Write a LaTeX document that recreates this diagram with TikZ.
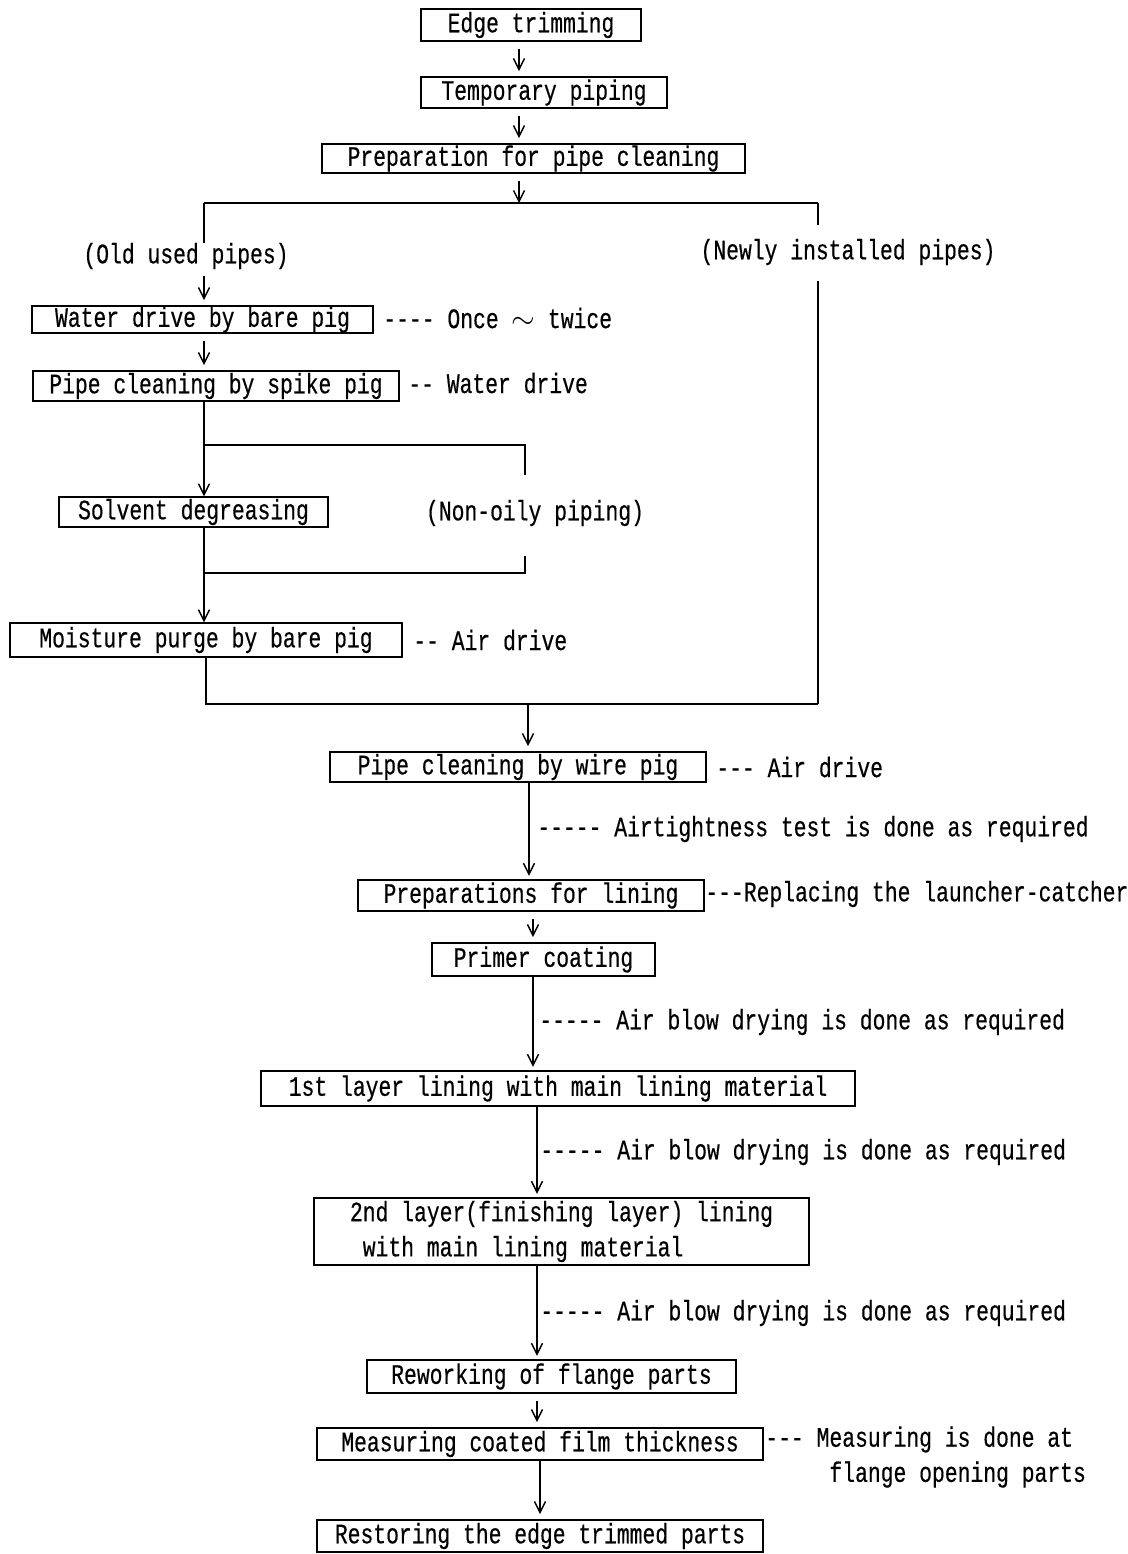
\documentclass[tikz,border=0pt]{standalone}
\usepackage{fontspec}
\setmonofont{Liberation Mono}[FakeStretch=0.76,FakeBold=0.4]
\usepackage{tikz}
\usetikzlibrary{arrows.meta,positioning,calc}
\newcommand\flowfont{\ttfamily\fontsize{16}{20}\selectfont}
\tikzset{
  stage/.style={rectangle, draw, line width=0.8pt, inner sep=0pt, align=center,
                font=\flowfont},
  note/.style={anchor=west, inner sep=0pt, align=left, font=\flowfont},
  branch/.style={inner sep=0pt, font=\flowfont},
  ln/.style={line width=0.8pt},
  fl/.style={-{Straight Barb[length=2.2mm,width=2.2mm]}, line width=0.8pt},
  gap/.style={shorten <=4pt, shorten >=3pt},
}

\begin{document}
\begin{tikzpicture}[x=0.02cm, y=-0.02cm]
\useasboundingbox (0,0) rectangle (1127,1554);
% main stages
\node[stage, minimum width=4.4cm, minimum height=0.64cm] (edge) at (531,25) {Edge trimming};
\node[stage, minimum width=4.92cm, minimum height=0.62cm] (temp) at (544,92.5) {Temporary piping};
\node[stage, minimum width=8.46cm, minimum height=0.58cm] (prep) at (533.5,158.5) {Preparation for pipe cleaning};
\node[branch] (old) at (186,256) {(Old used pipes)};
\node[branch] (new) at (848,252) {(Newly installed pipes)};
\node[stage, minimum width=6.82cm, minimum height=0.54cm] (water) at (202.5,319.5) {Water drive by bare pig};
\node[stage, minimum width=7.32cm, minimum height=0.6cm] (spike) at (216,386) {Pipe cleaning by spike pig};
\node[stage, minimum width=5.38cm, minimum height=0.6cm] (solvent) at (193.5,512) {Solvent degreasing};
\node[branch] (nonoily) at (535,513) {(Non-oily piping)};
\node[stage, minimum width=7.84cm, minimum height=0.68cm] (moist) at (206,640) {Moisture purge by bare pig};
\node[stage, minimum width=7.52cm, minimum height=0.6cm] (wire) at (518,767) {Pipe cleaning by wire pig};
\node[stage, minimum width=6.92cm, minimum height=0.62cm] (lining) at (531,895.5) {Preparations for lining};
\node[stage, minimum width=4.46cm, minimum height=0.66cm] (primer) at (543.5,959.5) {Primer coating};
\node[stage, minimum width=11.88cm, minimum height=0.7cm] (first) at (558,1088.5) {1st layer lining with main lining material};
\node[stage, minimum width=9.9cm, minimum height=1.34cm, align=left] (second) at (561.5,1231.5)
  {2nd layer(finishing layer) lining\\\ with main lining material};
\node[stage, minimum width=7.38cm, minimum height=0.66cm] (rework) at (551.5,1376.5) {Reworking of flange parts};
\node[stage, minimum width=8.92cm, minimum height=0.64cm] (measure) at (540,1444) {Measuring coated film thickness};
\node[stage, minimum width=8.92cm, minimum height=0.64cm] (restore) at (540,1536) {Restoring the edge trimmed parts};
% side notes
\node[note] (once) at (383,318) {---- Once $\sim$ twice};
\node[note] (wdrive) at (408,383) {-- Water drive};
\node[note] (adrive) at (413,640) {-- Air drive};
\node[note] (wdrive2) at (716,767) {--- Air drive};
\node[note] (airtest) at (537,829) {----- Airtightness test is done as required};
\node[note] (launch) at (705,894) {---Replacing the launcher-catcher};
\node[note] (dry1) at (539,1022) {----- Air blow drying is done as required};
\node[note] (dry2) at (540,1152) {----- Air blow drying is done as required};
\node[note] (dry3) at (540,1313) {----- Air blow drying is done as required};
\node[note] (mnote) at (765,1457) {--- Measuring is done at\\\hphantom{-----}flange opening parts};
% junctions
\coordinate (topL) at (204,203);
\coordinate (topM) at (519,203);
\coordinate (topR) at (818,203);
\coordinate (inT) at (204,445);
\coordinate (inTR) at (525,445);
\coordinate (inB) at (204,573);
\coordinate (inBR) at (525,573);
\coordinate (botL) at (206,704);
\coordinate (botM) at (528,704);
\coordinate (botR) at (818,704);
\coordinate (sb) at (529,0);
\coordinate (sc) at (533,0);
\coordinate (sd) at (537,0);
\coordinate (se) at (540,0);
% top spine
\draw[fl, gap] (edge.south -| topM) -- (temp.north -| topM);
\draw[fl, gap] (temp.south -| topM) -- (prep.north -| topM);
\draw[fl, shorten <=4pt] (prep.south -| topM) -- (topM);
% split
\draw[ln] (topL) -- (topR);
\draw[ln] (topL) -- (old.north -| topL);
\draw[fl, gap] (old.south -| topL) -- (water.north -| topL);
\draw[ln] (topR) -- ($(new.north -| topR)+(0,-14)$);
\draw[ln] ($(new.south -| topR)+(0,16)$) -- (botR);
\draw[fl, gap] (water.south -| topL) -- (spike.north -| topL);
% degreasing bypass
\draw[ln, shorten >=14pt] (spike.south -| inT) -- (inT) -- (inTR) -- (nonoily.north -| inTR);
\draw[fl] (inT) -- (solvent.north -| inT);
\draw[ln] (solvent.south -| inB) -- (inB) -- (inBR) -- ($(nonoily.south -| inBR)+(0,30)$);
\draw[fl] (inB) -- (moist.north -| inB);
% merge
\draw[ln] (moist.south -| botL) -- (botL) -- (botR);
\draw[fl, shorten >=3pt] (botM) -- (wire.north -| botM);
% lower spine
\draw[fl, shorten >=2pt] (wire.south -| sb) -- (lining.north -| sb);
\draw[fl, gap] (lining.south -| sc) -- (primer.north -| sc);
\draw[fl, shorten >=2pt] (primer.south -| sc) -- (first.north -| sc);
\draw[fl, shorten >=2pt] (first.south -| sd) -- (second.north -| sd);
\draw[fl, shorten >=2pt] (second.south -| sd) -- (rework.north -| sd);
\draw[fl, gap] (rework.south -| sd) -- (measure.north -| sd);
\draw[fl, shorten >=3pt] (measure.south -| se) -- (restore.north -| se);
\end{tikzpicture}
\end{document}
